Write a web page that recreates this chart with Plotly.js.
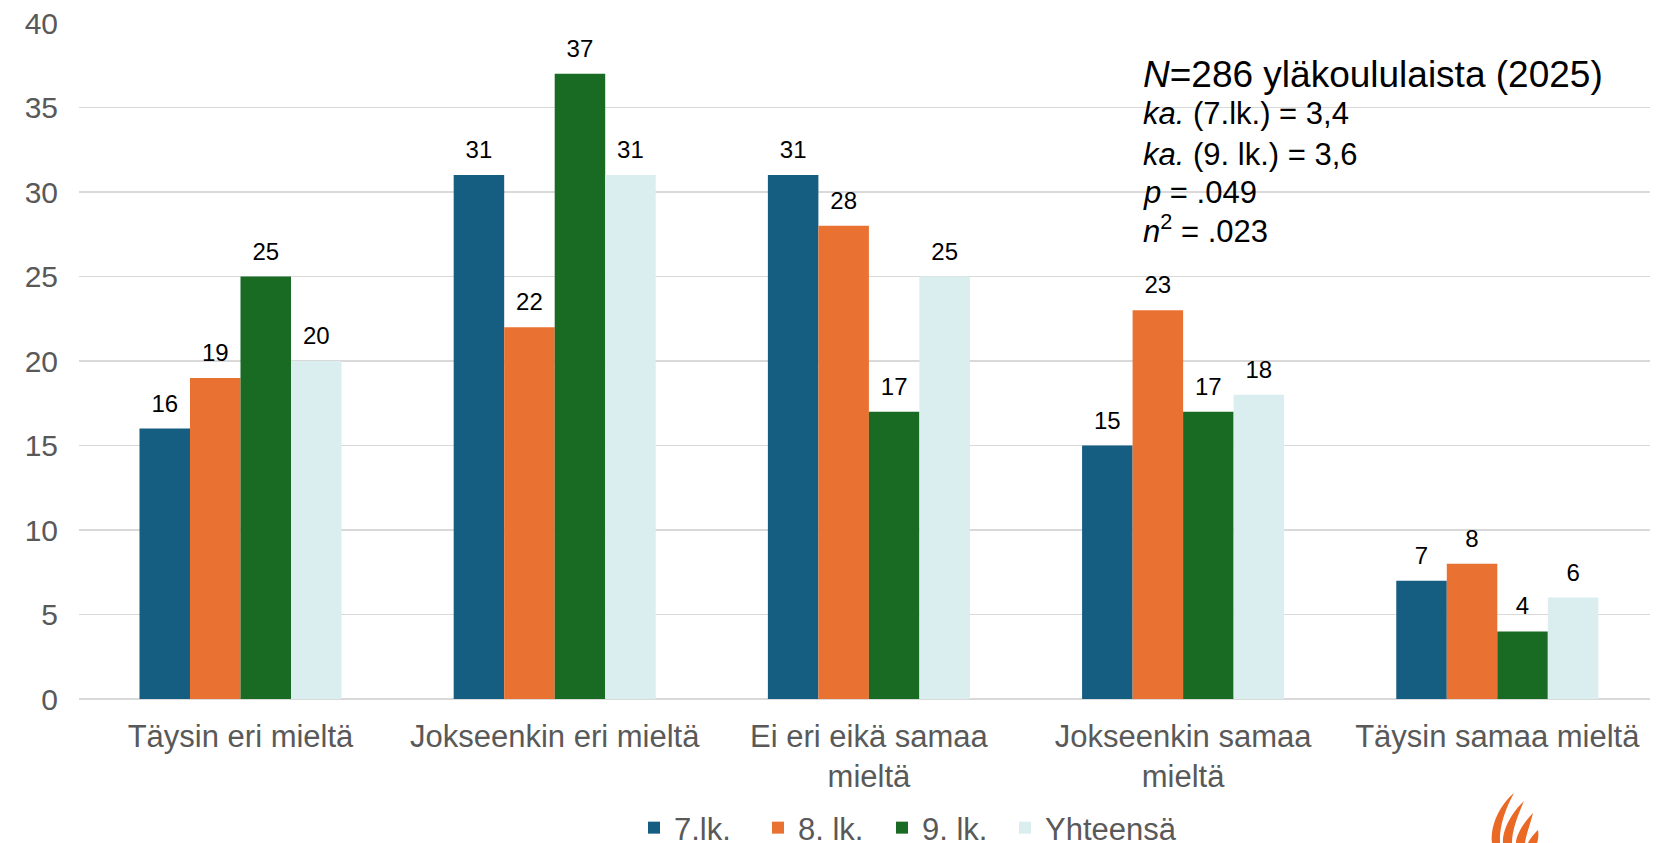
<!DOCTYPE html>
<html>
<head>
<meta charset="utf-8">
<script src="https://cdn.plot.ly/plotly-3.0.1.min.js"></script>
<style>html,body{margin:0;padding:0;background:#fff;}#chart{width:1661px;height:843px;}</style>
</head>
<body>
<div id="chart"></div>
<script>
const categories = ["Täysin eri mieltä", "Jokseenkin eri mieltä", "Ei eri eikä samaa<br>mieltä", "Jokseenkin samaa<br>mieltä", "Täysin samaa mieltä"];
const seriesNames = ["7.lk.", "8. lk.", "9. lk.", "Yhteensä"];
const values7 = [16, 31, 31, 15, 7];
const values8 = [19, 22, 28, 23, 8];
const values9 = [25, 37, 17, 17, 4];
const valuesTotal = [20, 31, 25, 18, 6];
const colors = ["#155E82", "#E97132", "#196B24", "#DAEDEF"];
const yTicks = [0, 5, 10, 15, 20, 25, 30, 35, 40];
const infoLines = [
  "<i>N</i>=286 yläkoululaista (2025)",
  "<i>ka.</i> (7.lk.) = 3,4",
  "<i>ka.</i> (9. lk.) = 3,6",
  "<i>p</i> = .049",
  "<i>n</i><sup>2</sup> = .023"
];

const allValues = [values7, values8, values9, valuesTotal];
const barTraces = allValues.map((vals, i) => ({
  type: "bar",
  name: seriesNames[i],
  legend: i === 3 ? "legend2" : "legend",
  x: categories,
  y: vals,
  marker: {color: colors[i], line: {width: 0}},
  hoverinfo: "x+y+name"
}));
const labelTraces = allValues.map((vals, i) => ({
  type: "scatter",
  mode: "markers+text",
  name: seriesNames[i] + " label",
  showlegend: false,
  x: categories,
  y: vals,
  marker: {size: 16, opacity: 0, color: colors[i]},
  text: vals.map(String),
  textposition: "top center",
  cliponaxis: false,
  textfont: {family: "Liberation Sans, Arial, sans-serif", size: 24, color: "#000000"},
  hoverinfo: "skip"
}));

const L = 79, R = 1650, T = 23, B = 699;
const W = R - L, H = B - T;
const px = v => (v - L) / W;
const py = v => (B - v) / H;

const infoY = [74, 114, 154, 192, 229];
const annotations = infoLines.map((t, i) => ({
  xref: "paper", yref: "paper",
  x: px(1141), y: py(infoY[i]),
  xanchor: "left", yanchor: "middle",
  showarrow: false,
  align: "left",
  text: t,
  font: {family: "Liberation Sans, Arial, sans-serif", size: i === 0 ? 37 : 31, color: "#000000"}
}));

// logo-ish flame (decorative)
const shapes = [
  {type: "path", xref: "paper", yref: "paper", layer: "above",
   path: `M ${px(1514)} ${py(793)} C ${px(1500)} ${py(805)}, ${px(1490)} ${py(825)}, ${px(1492)} ${py(843)} L ${px(1500)} ${py(843)} C ${px(1499)} ${py(825)}, ${px(1506)} ${py(808)}, ${px(1514)} ${py(793)} Z`,
   fillcolor: "#EA6A25", line: {width: 0}},
  {type: "path", xref: "paper", yref: "paper", layer: "above",
   path: `M ${px(1524)} ${py(801)} C ${px(1512)} ${py(812)}, ${px(1502)} ${py(830)}, ${px(1503)} ${py(843)} L ${px(1512)} ${py(843)} C ${px(1512)} ${py(830)}, ${px(1518)} ${py(815)}, ${px(1524)} ${py(801)} Z`,
   fillcolor: "#EA6A25", line: {width: 0}},
  {type: "path", xref: "paper", yref: "paper", layer: "above",
   path: `M ${px(1533)} ${py(813)} C ${px(1524)} ${py(822)}, ${px(1516)} ${py(835)}, ${px(1516)} ${py(843)} L ${px(1525)} ${py(843)} C ${px(1526)} ${py(835)}, ${px(1530)} ${py(825)}, ${px(1533)} ${py(813)} Z`,
   fillcolor: "#EA6A25", line: {width: 0}},
  {type: "path", xref: "paper", yref: "paper", layer: "above",
   path: `M ${px(1538)} ${py(830)} C ${px(1533)} ${py(835)}, ${px(1529)} ${py(840)}, ${px(1528)} ${py(843)} L ${px(1537)} ${py(843)} C ${px(1538)} ${py(840)}, ${px(1539)} ${py(835)}, ${px(1538)} ${py(830)} Z`,
   fillcolor: "#EA6A25", line: {width: 0}}
];

const legendBase = {
  orientation: "h",
  xanchor: "left",
  y: py(801), yanchor: "top",
  font: {size: 31, color: "#595959"},
  itemclick: false, itemdoubleclick: false,
  traceorder: "normal",
  bgcolor: "rgba(0,0,0,0)"
};

const layout = {
  width: 1661, height: 843,
  margin: {l: L, r: 1661 - R, t: T, b: 843 - B, pad: 0, autoexpand: false},
  paper_bgcolor: "#ffffff",
  plot_bgcolor: "#ffffff",
  barmode: "group",
  bargap: 0.357,
  bargroupgap: 0,
  scattermode: "group",
  scattergap: 0.357,
  font: {family: "Liberation Sans, Arial, sans-serif", color: "#595959"},
  showlegend: true,
  legend: Object.assign({}, legendBase, {x: px(634), entrywidth: 79, entrywidthmode: "pixels"}),
  legend2: Object.assign({}, legendBase, {x: px(1005)}),
  xaxis: {
    type: "category",
    range: [-0.514, 4.486],
    automargin: false,
    tickfont: {size: 31, color: "#595959"},
    showgrid: false,
    showline: false,
    zeroline: false,
    ticks: "",
    ticklabelstandoff: 16,
    fixedrange: true
  },
  yaxis: {
    range: [0, 40],
    automargin: false,
    tickvals: yTicks,
    ticktext: yTicks.map(String),
    tickfont: {size: 30, color: "#595959"},
    showgrid: true,
    gridcolor: "#D9D9D9",
    gridwidth: 1.5,
    zeroline: true,
    zerolinecolor: "#D9D9D9",
    zerolinewidth: 1.5,
    showline: false,
    ticks: "",
    ticklabelstandoff: 20,
    fixedrange: true
  },
  annotations: annotations,
  shapes: shapes
};

Plotly.newPlot("chart", barTraces.concat(labelTraces), layout, {displayModeBar: false, staticPlot: true});
</script>
</body>
</html>
